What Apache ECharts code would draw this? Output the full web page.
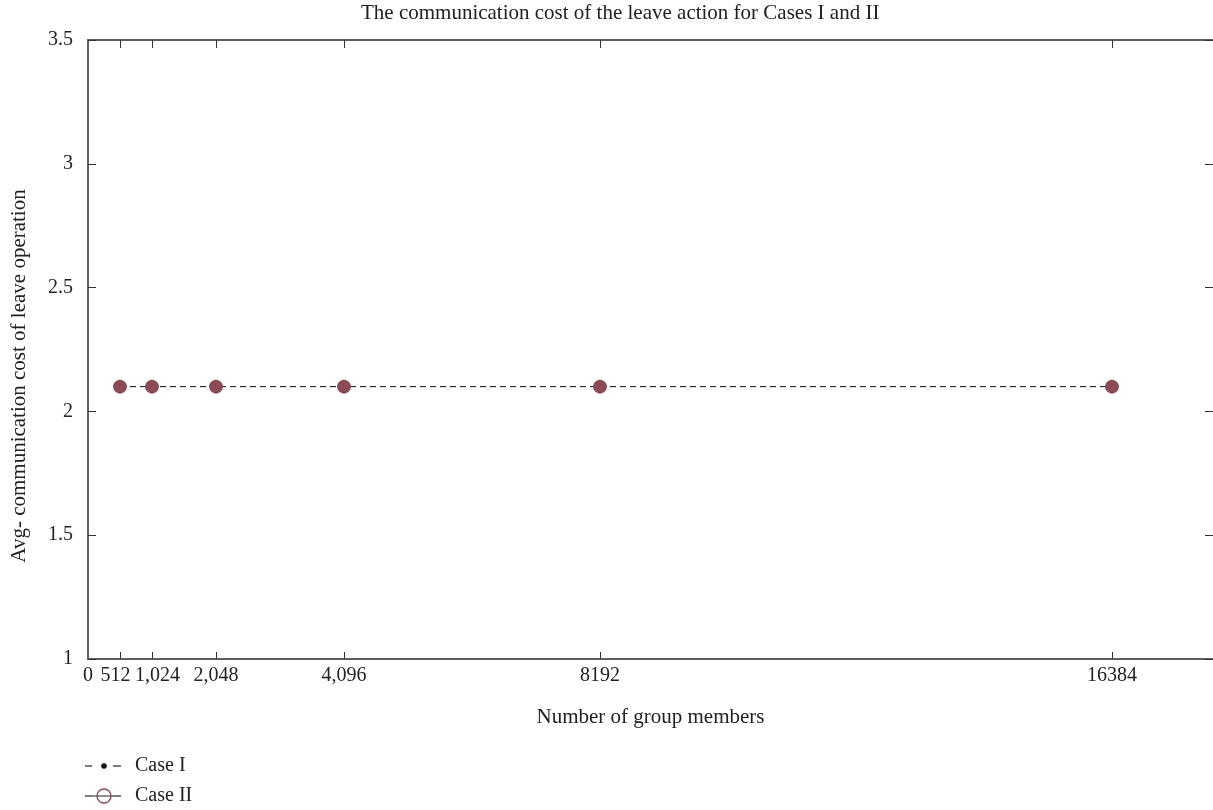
<!DOCTYPE html>
<html>
<head>
<meta charset="utf-8">
<script src="https://cdn.jsdelivr.net/npm/echarts@6/dist/echarts.min.js"></script>
<style>
  html, body { margin: 0; padding: 0; background: #fff; }
  #chart { width: 1213px; height: 810px; }
</style>
</head>
<body>
<div id="chart"></div>
<script>
// Group sizes and average leave-operation cost per case
const groupSizes = [512, 1024, 2048, 4096, 8192, 16384];
const caseI = [2.1, 2.1, 2.1, 2.1, 2.1, 2.1];
const caseII = [2.1, 2.1, 2.1, 2.1, 2.1, 2.1];

// Tick positions on the x axis and their printed labels
const xTickValues = [0, 512, 1024, 2048, 4096, 8192, 16384];
const xTickLabels = ['0', '512', '1,024', '2,048', '4,096', '8192', '16384'];

const FONT = 'Liberation Serif';
const AXIS_COLOR = '#5f5f5f';
const MARKER_COLOR = '#8b4a54';

// Legend keys: dashed stub, marker, dashed stub
const svgIcon = (inner) => 'image://data:image/svg+xml;utf8,' + encodeURIComponent(
  '<svg xmlns="http://www.w3.org/2000/svg" width="36" height="16">' +
  '<line x1="0" y1="8" x2="7" y2="8" stroke="#333" stroke-width="1.3"/>' +
  '<line x1="28" y1="8" x2="36" y2="8" stroke="#333" stroke-width="1.3"/>' +
  inner + '</svg>'
);
const caseIIcon = svgIcon('<circle cx="19" cy="8" r="2.8" fill="#111"/>');
const caseIIIcon = svgIcon(
  '<line x1="7" y1="8" x2="28" y2="8" stroke="#333" stroke-width="1.1"/>' +
  '<circle cx="19" cy="8" r="7" fill="none" stroke="' + MARKER_COLOR + '" stroke-width="1.3"/>'
);

const chart = echarts.init(document.getElementById('chart'), null, { renderer: 'canvas' });

const pairs = (ys) => groupSizes.map((x, i) => [x, ys[i]]);

// The two crowded labels near the origin are nudged apart
const xLabelFor = (v) => {
  const i = xTickValues.indexOf(v);
  if (i < 0) return '';
  if (v === 512) return '{l|' + xTickLabels[i] + '}';
  if (v === 1024) return '{r|' + xTickLabels[i] + '}';
  return xTickLabels[i];
};

const option = {
  animation: false,
  backgroundColor: '#fff',
  textStyle: { fontFamily: FONT },
  title: {
    text: 'The communication cost of the leave action for Cases I and II',
    left: 356,
    top: -2,
    textStyle: { fontFamily: FONT, fontSize: 21, fontWeight: 'normal', color: '#222' }
  },
  grid: { left: 88, right: -2, top: 40, bottom: 151, containLabel: false },
  legend: {
    orient: 'vertical',
    left: 85,
    top: 755,
    padding: 0,
    itemGap: 8,
    itemWidth: 36,
    itemHeight: 16,
    textStyle: { fontFamily: FONT, fontSize: 20, lineHeight: 22, color: '#222', padding: [0, 0, 0, 9] },
    data: [
      { name: 'Case I', icon: caseIIcon },
      { name: 'Case II', icon: caseIIIcon }
    ]
  },
  xAxis: [
    {
      type: 'value',
      min: 0,
      max: 18000,
      name: 'Number of group members',
      nameLocation: 'middle',
      nameGap: 48,
      nameTextStyle: { fontFamily: FONT, fontSize: 21, color: '#222' },
      axisLine: { show: true, onZero: false, lineStyle: { color: AXIS_COLOR, width: 2 } },
      axisTick: { show: true, inside: true, length: 7, customValues: xTickValues.slice(1), lineStyle: { color: '#333', width: 1 } },
      axisLabel: {
        customValues: xTickValues,
        formatter: xLabelFor,
        fontFamily: FONT,
        fontSize: 20,
        color: '#222',
        margin: 7,
        rich: {
          l: { fontFamily: FONT, fontSize: 20, color: '#222', padding: [0, 9, 0, 0] },
          r: { fontFamily: FONT, fontSize: 20, color: '#222', padding: [0, 0, 0, 11] }
        }
      },
      splitLine: { show: false }
    },
    {
      type: 'value',
      position: 'top',
      min: 0,
      max: 18000,
      axisLine: { show: true, onZero: false, lineStyle: { color: AXIS_COLOR, width: 2 } },
      axisTick: { show: true, inside: true, length: 8, customValues: xTickValues.slice(1), lineStyle: { color: '#333', width: 1 } },
      axisLabel: { show: false },
      splitLine: { show: false }
    }
  ],
  yAxis: [
    {
      type: 'value',
      position: 'left',
      min: 1,
      max: 3.5,
      interval: 0.5,
      axisLine: { show: true, onZero: false, lineStyle: { color: AXIS_COLOR, width: 2 } },
      axisTick: { show: true, inside: true, length: 8, lineStyle: { color: '#333', width: 1 } },
      axisLabel: { fontFamily: FONT, fontSize: 20, color: '#222', margin: 15 },
      splitLine: { show: false }
    },
    {
      type: 'value',
      position: 'right',
      min: 1,
      max: 3.5,
      interval: 0.5,
      axisLine: { show: false, onZero: false },
      axisTick: { show: true, inside: true, length: 8, lineStyle: { color: '#333', width: 1 } },
      axisLabel: { show: false },
      splitLine: { show: false }
    }
  ],
  graphic: [
    {
      type: 'text',
      x: 19,
      y: 376,
      rotation: Math.PI / 2,
      style: {
        text: 'Avg- communication cost of leave operation',
        fontFamily: FONT,
        fontSize: 21,
        fill: '#222',
        align: 'center',
        verticalAlign: 'middle'
      }
    }
  ],
  series: [
    {
      name: 'Case I',
      type: 'line',
      data: pairs(caseI),
      symbol: 'circle',
      symbolSize: 5,
      itemStyle: { color: '#111' },
      lineStyle: { color: '#111', width: 1, type: [6, 4] },
      z: 2
    },
    {
      name: 'Case II',
      type: 'line',
      data: pairs(caseII),
      symbol: 'circle',
      symbolSize: 13,
      itemStyle: { color: MARKER_COLOR, borderColor: MARKER_COLOR },
      lineStyle: { color: '#444', width: 1, type: [6, 4], opacity: 0 },
      z: 3
    }
  ]
};

chart.setOption(option);
</script>
</body>
</html>
